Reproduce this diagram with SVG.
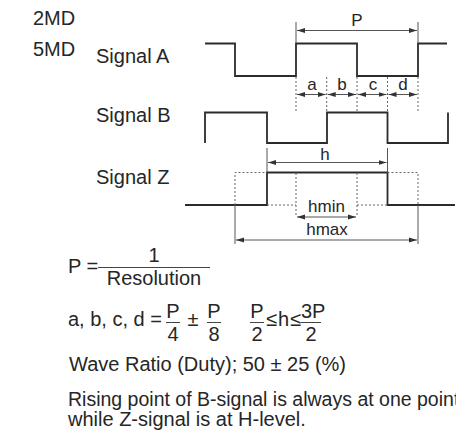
<svg xmlns="http://www.w3.org/2000/svg" width="456" height="436" viewBox="0 0 456 436">
<defs>
<marker id="arr" markerUnits="userSpaceOnUse" markerWidth="9" markerHeight="6" refX="8" refY="3" orient="auto-start-reverse">
<path d="M0,0.5 L8,3 L0,5.5 z" fill="#333"/>
</marker>
<style>
text{font-family:"Liberation Sans",Arial,Helvetica,sans-serif;fill:#262626}
.t20{font-size:20px}
.t17{font-size:17px}
.mid{text-anchor:middle}
.wave{fill:none;stroke:#2b2b2b;stroke-width:1.8}
.dim{fill:none;stroke:#555;stroke-width:1}
.dot{fill:none;stroke:#666;stroke-width:1;stroke-dasharray:2 2}
.frac{stroke:#444;stroke-width:1}
</style>
</defs>
<rect width="456" height="436" fill="#fff"/>

<g id="labels">
<text class="t20" x="33" y="25">2MD</text>
<text class="t20" x="33" y="56">5MD</text>
</g>

<g id="signalA">
<text class="t20" x="96" y="63">Signal A</text>
<path class="wave" d="M205,43.5 H235 V76 H296 V43.5 H357 V76 H418 V43.5 H447"/>
</g>

<g id="signalB">
<text class="t20" x="96" y="122">Signal B</text>
<path class="wave" d="M205,143 V112.5 H267 V143 H327 V112.5 H387.5 V143 H448 V112.5"/>
</g>

<g id="signalZ">
<text class="t20" x="96" y="184">Signal Z</text>
<path class="wave" d="M185,205 H267 V172.5 H387.5 V205 H455"/>
</g>

<g id="connectors">
<path class="dim" d="M296,22 V43 M418,22 V43"/>
<path class="dim" d="M297,30.5 H417" marker-start="url(#arr)" marker-end="url(#arr)"/>
<text class="t17 mid" x="357" y="26">P</text>
<path class="dot" d="M296,77 V113 M326.7,77 V113 M357,77 V112 M387.5,77 V113 M418,77 V113"/>
<path class="dim" d="M297,94.5 H325.7" marker-start="url(#arr)" marker-end="url(#arr)"/>
<path class="dim" d="M327.7,94.5 H356" marker-start="url(#arr)" marker-end="url(#arr)"/>
<path class="dim" d="M358,94.5 H386.5" marker-start="url(#arr)" marker-end="url(#arr)"/>
<path class="dim" d="M388.5,94.5 H417" marker-start="url(#arr)" marker-end="url(#arr)"/>
<text class="t17 mid" x="312" y="90">a</text>
<text class="t17 mid" x="342" y="90">b</text>
<text class="t17 mid" x="373" y="90">c</text>
<text class="t17 mid" x="403" y="90">d</text>
<path class="dim" d="M267,148 V172 M387.5,148 V172"/>
<path class="dim" d="M268,162.5 H386.5" marker-start="url(#arr)" marker-end="url(#arr)"/>
<text class="t17 mid" x="325" y="160">h</text>
<path class="dot" d="M235,205 V172.5 H267 M387.5,172.5 H418 V205 M267,205 H296 M357,205 H387.5 M296,173 V217 M357,173 V217"/>
<path class="dim" d="M297,217 H356" marker-start="url(#arr)" marker-end="url(#arr)"/>
<text class="t17 mid" x="326.5" y="212">hmin</text>
<path class="dim" d="M235,205 V244 M418,205 V244"/>
<path class="dim" d="M236,240 H417" marker-start="url(#arr)" marker-end="url(#arr)"/>
<text class="t17 mid" x="327" y="235">hmax</text>
</g>

<g id="formula1">
<text class="t20" x="68" y="273">P =</text>
<text class="t20 mid" x="154" y="262">1</text>
<line class="frac" x1="98" y1="267.5" x2="210" y2="267.5"/>
<text class="t20 mid" x="154" y="285">Resolution</text>
</g>

<g id="formula2">
<text class="t20" x="68" y="326">a, b, c, d =</text>
<text class="t20 mid" x="173" y="318">P</text>
<line class="frac" x1="166" y1="322.5" x2="180" y2="322.5"/>
<text class="t20 mid" x="173" y="341">4</text>
<text class="t20 mid" x="193" y="326">±</text>
<text class="t20 mid" x="214" y="318">P</text>
<line class="frac" x1="207" y1="322.5" x2="221" y2="322.5"/>
<text class="t20 mid" x="214" y="341">8</text>
<text class="t20 mid" x="257" y="318">P</text>
<line class="frac" x1="250" y1="322.5" x2="264" y2="322.5"/>
<text class="t20 mid" x="257" y="341">2</text>
<text class="t20" x="266" y="326">≤</text>
<text class="t20" x="278" y="326">h</text>
<text class="t20" x="290" y="326">≤</text>
<text class="t20" x="301" y="318">3P</text>
<line class="frac" x1="301" y1="322.5" x2="321" y2="322.5"/>
<text class="t20 mid" x="311" y="341">2</text>
</g>

<g id="notes">
<text class="t20" x="69" y="371">Wave Ratio (Duty); 50 ± 25 (%)</text>
<text x="68" y="406" style="font-size:19.5px">Rising point of B-signal is always at one point</text>
<text class="t20" x="68" y="426">while Z-signal is at H-level.</text>
</g>
</svg>
